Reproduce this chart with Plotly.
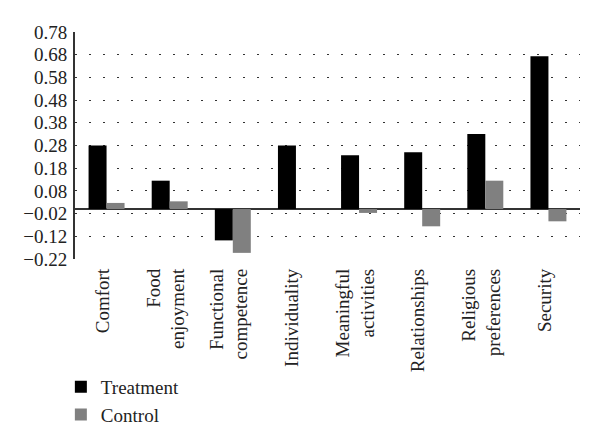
import plotly.graph_objects as go

categories = ["Comfort", "Food<br>enjoyment", "Functional<br>competence", "Individuality",
              "Meaningful<br>activities", "Relationships", "Religious<br>preferences", "Security"]
treatment = [0.28, 0.125, -0.138, 0.28, 0.237, 0.25, 0.331, 0.673]
control = [0.027, 0.034, -0.193, 0.0, -0.017, -0.076, 0.125, -0.054]
y_ticks = [-0.22, -0.12, -0.02, 0.08, 0.18, 0.28, 0.38, 0.48, 0.58, 0.68, 0.78]

font_family = "Liberation Serif"

fig = go.Figure()
fig.add_trace(go.Bar(name="Treatment", x=categories, y=treatment, marker_color="#000000",
                     marker_line_width=0))
fig.add_trace(go.Bar(name="Control", x=categories, y=control, marker_color="#808080",
                     marker_line_width=0))

fig.update_layout(
    width=592, height=439,
    margin=dict(l=67, r=20, t=24, b=188),
    paper_bgcolor="white", plot_bgcolor="white",
    barmode="group", bargap=0.43, bargroupgap=0,
    font=dict(family=font_family, size=19, color="#222222"),
    showlegend=True,
    legend=dict(x=-0.028, y=-0.48, xanchor="left", yanchor="top", orientation="v",
                font=dict(size=19, family=font_family, color="#222222"),
                tracegroupgap=0, bgcolor="rgba(0,0,0,0)"),
    xaxis=dict(tickangle=-90, showgrid=False, showline=False, ticks="",
               ticklabelstandoff=5, ticklabelshift=-4,
               tickfont=dict(size=19, family=font_family)),
    yaxis=dict(range=[-0.22, 0.78], tickvals=y_ticks, tickformat=".2f",
               showgrid=True, gridcolor="#333333", gridwidth=1, griddash="2px,12px",
               showline=True, linecolor="#333333", linewidth=2, ticks="",
               ticklabelstandoff=2,
               zeroline=True, zerolinecolor="#333333", zerolinewidth=2,
               tickfont=dict(size=19, family=font_family)),
)

fig.write_html("out.html")
